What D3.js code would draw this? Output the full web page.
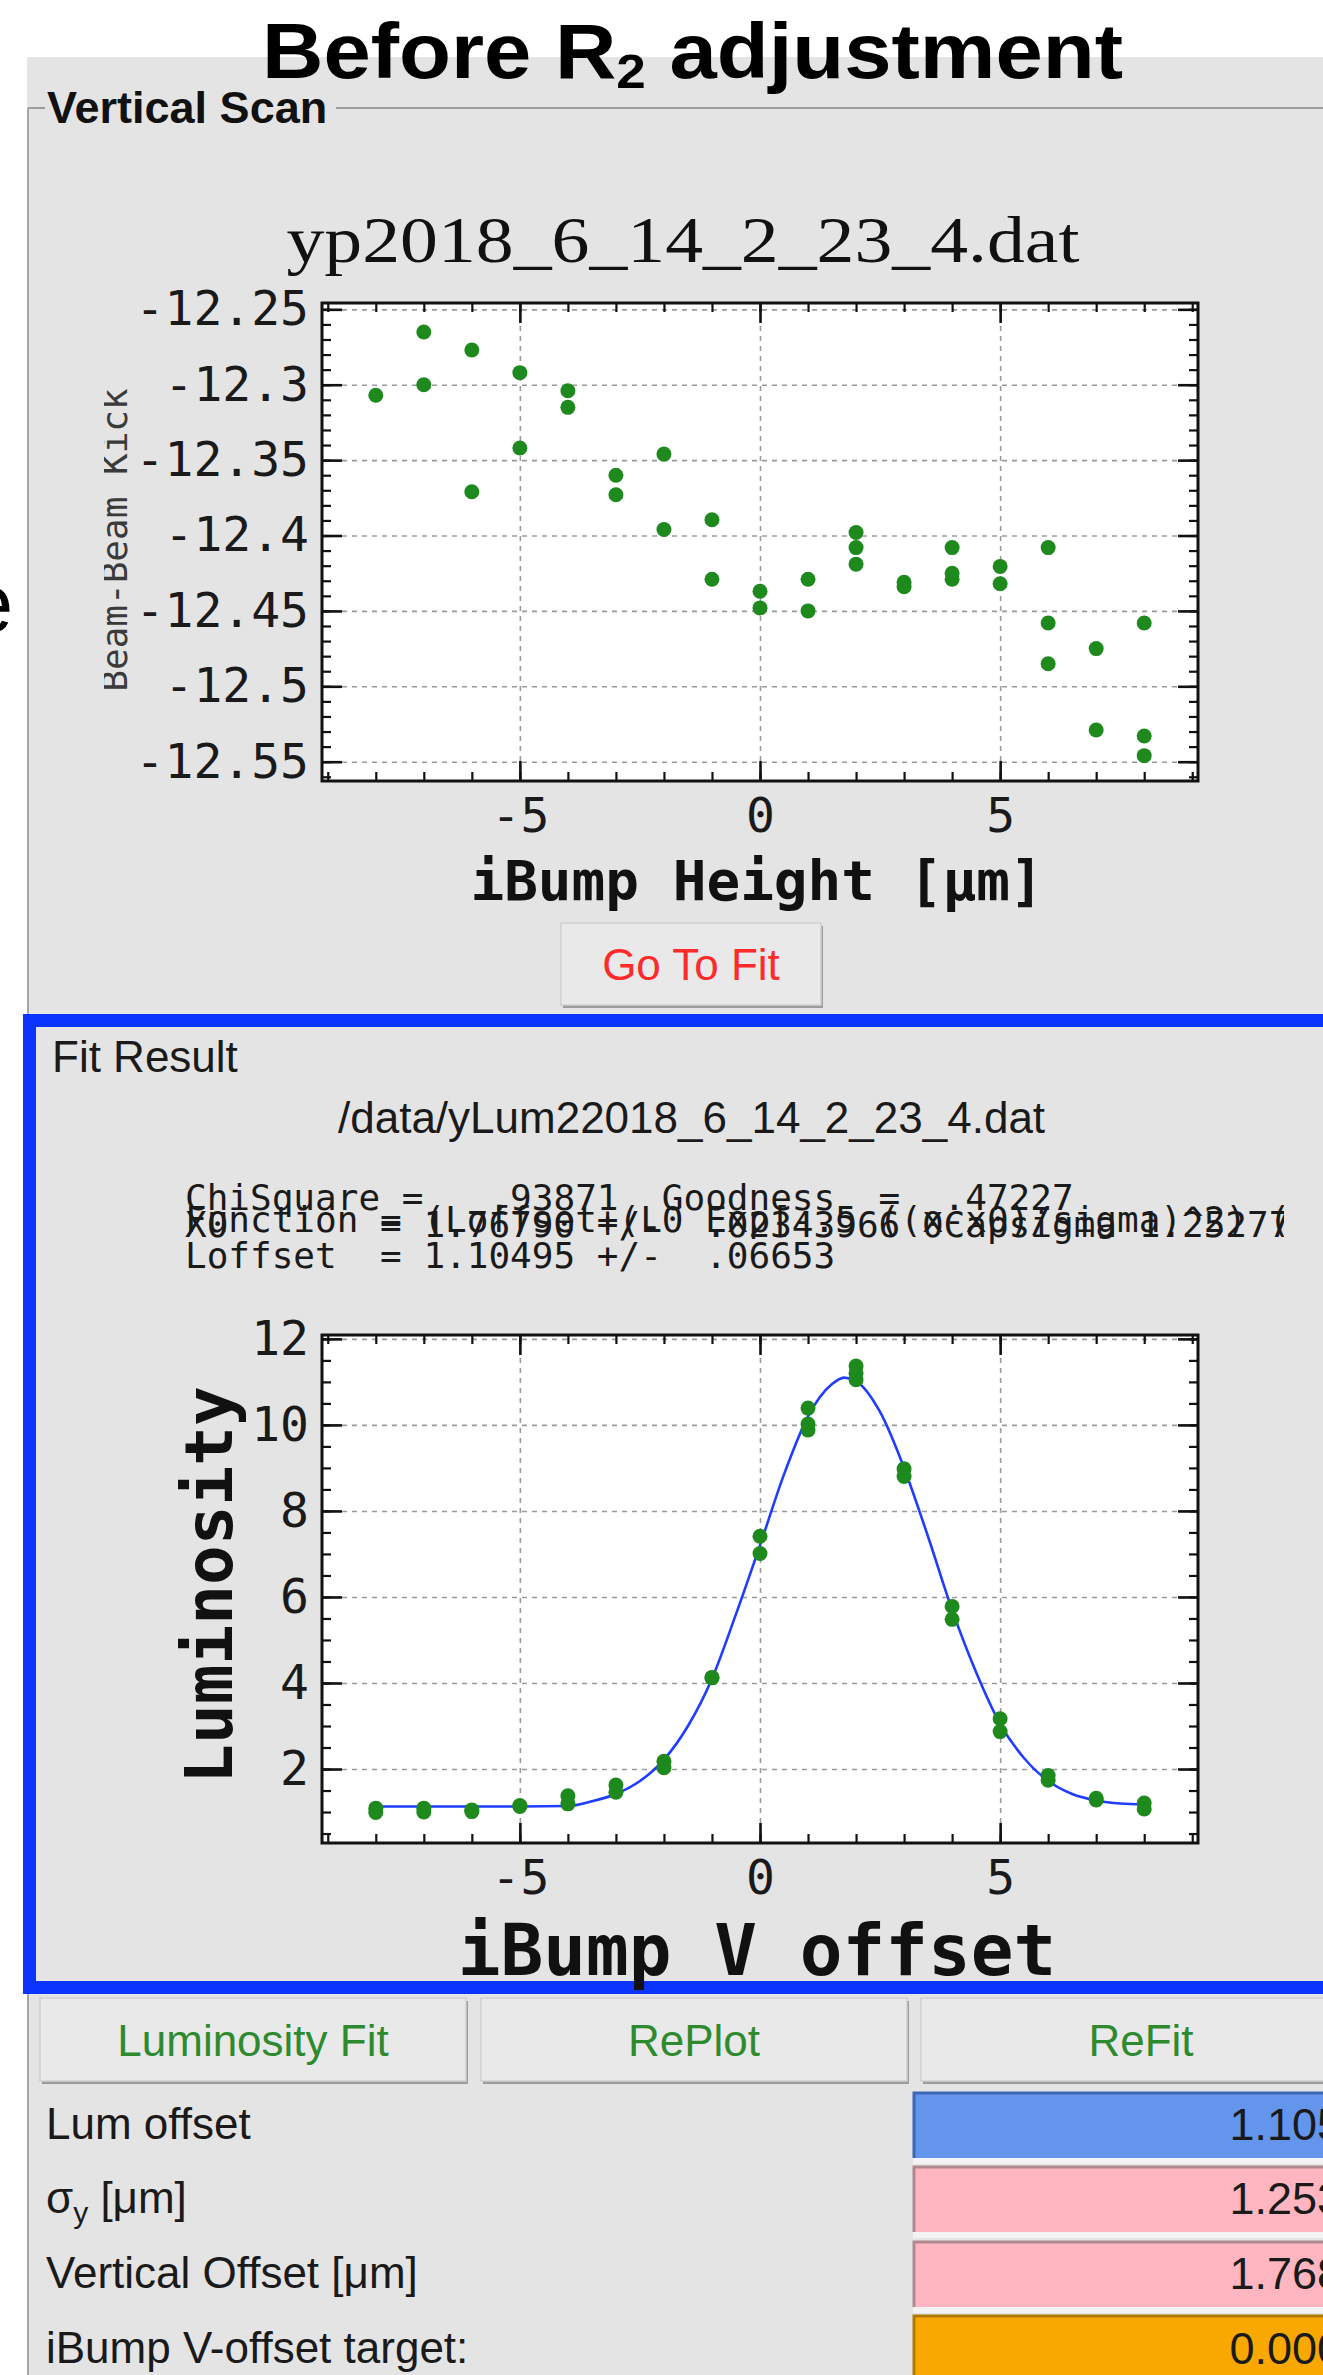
<!DOCTYPE html>
<html><head><meta charset="utf-8">
<script src="https://cdn.jsdelivr.net/npm/d3@7"></script>
<style>html,body{margin:0;padding:0;background:#fff;}svg{display:block;}</style>
</head><body>
<script>
// ---------- data ----------
const scanX    = [-8,-7,-7,-6,-6,-5,-5,-4,-4,-3,-3,-2,-2,-1,-1,0,0,1,1,2,2,2,3,3,4,4,4,5,5,6,6,6,7,7,8,8,8];
const scanKick = [-12.307,-12.265,-12.300,-12.277,-12.371,-12.292,-12.342,-12.304,-12.315,-12.360,-12.373,
                  -12.346,-12.396,-12.3895,-12.429,-12.437,-12.448,-12.429,-12.450,-12.398,-12.408,-12.419,
                  -12.431,-12.434,-12.408,-12.425,-12.429,-12.4205,-12.432,-12.408,-12.458,-12.485,
                  -12.475,-12.529,-12.458,-12.533,-12.546];
const scanYTicks = [-12.25,-12.3,-12.35,-12.4,-12.45,-12.5,-12.55];
const xTicks = [-5,0,5];

const lumX   = [-8,-8,-7,-7,-6,-6,-5,-5,-4,-4,-3,-3,-2,-2,-1,-1,0,0,1,1,1,2,2,2,3,3,4,4,5,5,6,6,7,7,8,8];
const lumVal = [1.09,0.99,1.09,1.00,1.05,1.01,1.15,1.13,1.38,1.19,1.63,1.46,2.18,2.03,4.13,4.12,7.41,7.01,
                10.39,10.02,9.88,11.37,11.20,11.05,8.98,8.80,5.78,5.48,3.17,2.87,1.85,1.74,1.32,1.28,1.21,1.07];
const fitX   = [-8,-7,-6,-5,-4,-3.5,-3,-2.5,-2,-1.5,-1,-0.5,0,0.5,1,1.5,1.75,2,2.5,3,3.5,4,4.5,5,5.5,6,6.5,7,7.5,8];
const fitVal = [1.13,1.13,1.13,1.13,1.14,1.25,1.42,1.72,2.22,3.0,4.1,5.6,7.2,8.85,10.2,10.95,11.1,11.02,10.3,9.0,
                7.4,5.7,4.25,3.05,2.25,1.72,1.42,1.27,1.2,1.18];
const lumYTicks = [2,4,6,8,10,12];

const fitLines = [
  "ChiSquare =   .93871  Goodness  =  .47227",
  "Function = (Loffset+(L0 Exp[-.5 ((x-x0)/sigma)^2) (H",
  "X0       = 1.76790 +/-  .02343966 0Capsigma 1.2527727",
  "Loffset  = 1.10495 +/-  .06653"
];
const buttonLabels = ["Luminosity Fit","RePlot","ReFit"];
const rowLabels = ["Lum offset","σy [μm]","Vertical Offset [μm]","iBump V-offset target:"];
const rowValues = ["1.105","1.253","1.768","0.000"];
const rowColors = ["#6495ed","#ffb6c1","#ffb6c1","#f8a800"];
const rowBorders = ["#3d66b8","#b08890","#b08890","#b07a00"];

// ---------- setup ----------
const W = 1323, H = 2375;
const MONO = "'DejaVu Sans Mono', monospace";
const SANS = "'Liberation Sans', Arial, sans-serif";
const SERIF = "'Liberation Serif', 'Times New Roman', serif";
const GRAY = "#e4e4e4";

const svg = d3.select("body").append("svg").attr("width", W).attr("height", H);
const defs = svg.append("defs");
svg.append("rect").attr("width", W).attr("height", H).attr("fill", "#fff");
svg.append("rect").attr("x", 27).attr("y", 57).attr("width", W - 27).attr("height", H - 57).attr("fill", GRAY);

// stray letter at far left (from neighbouring slide)
svg.append("text").attr("x", -33).attr("y", 632).attr("font-family", SANS).attr("font-size", 83)
  .attr("fill", "#000").text("e");

// titled border
svg.append("line").attr("x1", 28).attr("x2", 28).attr("y1", 108).attr("y2", H).attr("stroke", "#a6a6a6").attr("stroke-width", 2);
svg.append("line").attr("x1", 28).attr("x2", 45).attr("y1", 108).attr("y2", 108).attr("stroke", "#9c9c9c").attr("stroke-width", 2);
svg.append("line").attr("x1", 336).attr("x2", W).attr("y1", 108).attr("y2", 108).attr("stroke", "#9c9c9c").attr("stroke-width", 2);
svg.append("text").attr("x", 47).attr("y", 123).attr("font-family", SANS).attr("font-weight", "bold")
  .attr("font-size", 45).attr("fill", "#111").text("Vertical Scan");

// slide title
const t = svg.append("text").attr("x", 262).attr("y", 78).attr("font-family", SANS).attr("font-weight", "bold")
  .attr("font-size", 77).attr("fill", "#000").attr("textLength", 861).attr("lengthAdjust", "spacingAndGlyphs");
t.append("tspan").text("Before R");
t.append("tspan").attr("font-size", 48).attr("dy", 10).text("2");
t.append("tspan").attr("dy", -10).text(" adjustment");

// ---------- plot helper ----------
function drawPlot(o) {
  const g = svg.append("g");
  const [L, R] = o.x.range();
  const [B, T] = o.y.range();
  g.append("rect").attr("x", L).attr("y", T).attr("width", R - L).attr("height", B - T).attr("fill", "#fff");

  // grid
  const gx = g.append("g").attr("transform", `translate(0,${B})`)
    .call(d3.axisBottom(o.x).tickValues(o.xMajor).tickSize(-(B - T)).tickFormat(""));
  const gy = g.append("g").attr("transform", `translate(${L},0)`)
    .call(d3.axisLeft(o.y).tickValues(o.yMajor).tickSize(-(R - L)).tickFormat(""));
  [gx, gy].forEach(s => {
    s.select(".domain").remove();
    s.selectAll("line").attr("stroke", "#9a9a9a").attr("stroke-width", 1.6).attr("stroke-dasharray", "5,5");
  });

  // ticks on all sides, inward
  const tickSets = [
    [d3.axisBottom(o.x), `translate(0,${B})`, o.xMinor, o.xMajor],
    [d3.axisTop(o.x), `translate(0,${T})`, o.xMinor, o.xMajor],
    [d3.axisLeft(o.y), `translate(${L},0)`, o.yMinor, o.yMajor],
    [d3.axisRight(o.y), `translate(${R},0)`, o.yMinor, o.yMajor]
  ];
  tickSets.forEach(([ax, tr, minor, major]) => {
    const a1 = g.append("g").attr("transform", tr).call(ax.tickValues(minor).tickSize(-9).tickFormat(""));
    a1.select(".domain").remove();
    a1.selectAll("line").attr("stroke", "#111").attr("stroke-width", 2.2);
    const a2 = g.append("g").attr("transform", tr).call(ax.tickValues(major).tickSize(-20).tickFormat(""));
    a2.select(".domain").remove();
    a2.selectAll("line").attr("stroke", "#111").attr("stroke-width", 2.6);
  });

  // data
  if (o.curve) {
    g.append("path").datum(o.curve).attr("fill", "none").attr("stroke", "#1f3cff").attr("stroke-width", 2.6)
      .attr("d", d3.line().x(d => o.x(d[0])).y(d => o.y(d[1])).curve(d3.curveMonotoneX));
  }
  g.selectAll("circle.pt").data(o.points).join("circle").attr("class", "pt")
    .attr("cx", d => o.x(d[0])).attr("cy", d => o.y(d[1])).attr("r", 7.5).attr("fill", "#1e8a1e");

  // frame
  g.append("rect").attr("x", L).attr("y", T).attr("width", R - L).attr("height", B - T)
    .attr("fill", "none").attr("stroke", "#111").attr("stroke-width", 3);

  // tick labels
  const lx = g.append("g").attr("transform", `translate(0,${B})`)
    .call(d3.axisBottom(o.x).tickValues(o.xMajor).tickSize(0).tickPadding(17).tickFormat(o.xFmt));
  const ly = g.append("g").attr("transform", `translate(${L},0)`)
    .call(d3.axisLeft(o.y).tickValues(o.yMajor).tickSize(0).tickPadding(13).tickFormat(o.yFmt));
  [lx, ly].forEach(s => {
    s.select(".domain").remove();
    s.selectAll("text").attr("font-family", MONO).attr("font-size", 48).attr("fill", "#1a1a1a");
  });
  return g;
}

const fmt = d => String(+(+d).toFixed(2));
const range = (a, b, s) => d3.range(Math.round(a / s), Math.round(b / s) + 1).map(i => +(i * s).toFixed(4));

// ---------- upper plot ----------
const x1 = d3.scaleLinear().domain([-9.12, 9.12]).range([322, 1198]);
const y1 = d3.scaleLinear().domain([-12.5628, -12.2458]).range([781, 303]);
drawPlot({
  x: x1, y: y1, xMajor: xTicks, xMinor: range(-9, 9, 1),
  yMajor: scanYTicks, yMinor: range(-12.56, -12.25, 0.01),
  xFmt: fmt, yFmt: fmt,
  points: scanX.map((v, i) => [v, scanKick[i]])
});
svg.append("text").attr("x", 683).attr("y", 262).attr("text-anchor", "middle").attr("font-family", SERIF)
  .attr("font-size", 66).attr("fill", "#111").attr("textLength", 793).attr("lengthAdjust", "spacingAndGlyphs")
  .text("yp2018_6_14_2_23_4.dat");
defs.append("clipPath").attr("id", "ylabclip").append("rect").attr("x", 104).attr("y", 300).attr("width", 200).attr("height", 500);
svg.append("g").attr("clip-path", "url(#ylabclip)").append("text")
  .attr("transform", "translate(127,540) rotate(-90)").attr("text-anchor", "middle")
  .attr("font-family", MONO).attr("font-size", 36).attr("fill", "#3a3a3a").text("Beam-Beam Kick");
svg.append("text").attr("x", 757).attr("y", 900).attr("text-anchor", "middle").attr("font-family", MONO)
  .attr("font-weight", "bold").attr("font-size", 56).attr("fill", "#111").text("iBump Height [μm]");

// buttons
function button(x, y, w, h, label, color) {
  svg.append("rect").attr("x", x + 2).attr("y", y + 3).attr("width", w).attr("height", h).attr("fill", "#9c9c9c");
  svg.append("rect").attr("x", x).attr("y", y).attr("width", w).attr("height", h).attr("fill", "#e9e9e9")
    .attr("stroke", "#cfcfcf").attr("stroke-width", 1.5);
  svg.append("text").attr("x", x + w / 2).attr("y", y + h / 2 + 16).attr("text-anchor", "middle")
    .attr("font-family", SANS).attr("font-size", 44).attr("fill", color).text(label);
}
button(561, 923, 260, 82, "Go To Fit", "#ff2a2a");

// ---------- fit result frame ----------
svg.append("rect").attr("x", 29.5).attr("y", 1020.5).attr("width", W).attr("height", 967)
  .attr("fill", GRAY).attr("stroke", "#0b34ff").attr("stroke-width", 13);
svg.append("text").attr("x", 52).attr("y", 1072).attr("font-family", SANS).attr("font-size", 44)
  .attr("fill", "#1a1a1a").text("Fit Result");
svg.append("text").attr("x", 338).attr("y", 1133).attr("font-family", SANS).attr("font-size", 44)
  .attr("fill", "#1a1a1a").text("/data/yLum22018_6_14_2_23_4.dat");
defs.append("clipPath").attr("id", "fitclip").append("rect").attr("x", 150).attr("y", 1150).attr("width", 1134).attr("height", 150);
const fitG = svg.append("g").attr("clip-path", "url(#fitclip)");
const fitBase = [1210, 1232, 1237, 1268];
fitLines.forEach((s, i) => {
  fitG.append("text").attr("x", 185).attr("y", fitBase[i]).attr("font-family", MONO).attr("font-size", 36)
    .attr("fill", "#1a1a1a").attr("xml:space", "preserve").style("white-space", "pre").text(s);
});

// ---------- lower plot ----------
const x2 = d3.scaleLinear().domain([-9.12, 9.12]).range([322, 1198]);
const y2 = d3.scaleLinear().domain([0.28, 12.09]).range([1843, 1335]);
drawPlot({
  x: x2, y: y2, xMajor: xTicks, xMinor: range(-9, 9, 1),
  yMajor: lumYTicks, yMinor: range(0.5, 12, 0.5),
  xFmt: fmt, yFmt: fmt,
  points: lumX.map((v, i) => [v, lumVal[i]]),
  curve: fitX.map((v, i) => [v, fitVal[i]])
});
svg.append("text").attr("transform", "translate(232,1585) rotate(-90)").attr("text-anchor", "middle")
  .attr("font-family", MONO).attr("font-weight", "bold").attr("font-size", 66).attr("fill", "#111").text("Luminosity");
svg.append("text").attr("x", 757).attr("y", 1975).attr("text-anchor", "middle").attr("font-family", MONO)
  .attr("font-weight", "bold").attr("font-size", 71).attr("fill", "#111").text("iBump V offset");

// ---------- bottom controls ----------
const bx = [40, 481, 921], bw = [426, 426, 440];
buttonLabels.forEach((s, i) => button(bx[i], 1998, bw[i], 83, s, "#2e8a2e"));

const rowTop = [2092, 2166, 2241, 2315];
const rowBase = [2139, 2213, 2288, 2363];
rowLabels.forEach((s, i) => {
  const tx = svg.append("text").attr("x", 46).attr("y", rowBase[i]).attr("font-family", SANS)
    .attr("font-size", 44).attr("fill", "#1a1a1a");
  if (s.startsWith("σy")) {
    tx.append("tspan").text("σ");
    tx.append("tspan").attr("font-size", 30).attr("dy", 10).text("y");
    tx.append("tspan").attr("dy", -10).text(s.slice(2));
  } else tx.text(s);
  svg.append("rect").attr("x", 913).attr("y", rowTop[i]).attr("width", W - 913).attr("height", 66)
    .attr("fill", rowColors[i]);
  svg.append("path").attr("d", `M914,${rowTop[i] + 66} V${rowTop[i] + 1} H${W}`)
    .attr("fill", "none").attr("stroke", rowBorders[i]).attr("stroke-width", 3);
  svg.append("rect").attr("x", 913).attr("y", rowTop[i] + 66).attr("width", W - 913).attr("height", 6).attr("fill", "#f3f3f3");
  svg.append("text").attr("x", 1342).attr("y", rowBase[i] + 1).attr("text-anchor", "end").attr("font-family", SANS)
    .attr("font-size", 45).attr("fill", "#1a1a1a").text(rowValues[i]);
});
</script>
</body></html>
